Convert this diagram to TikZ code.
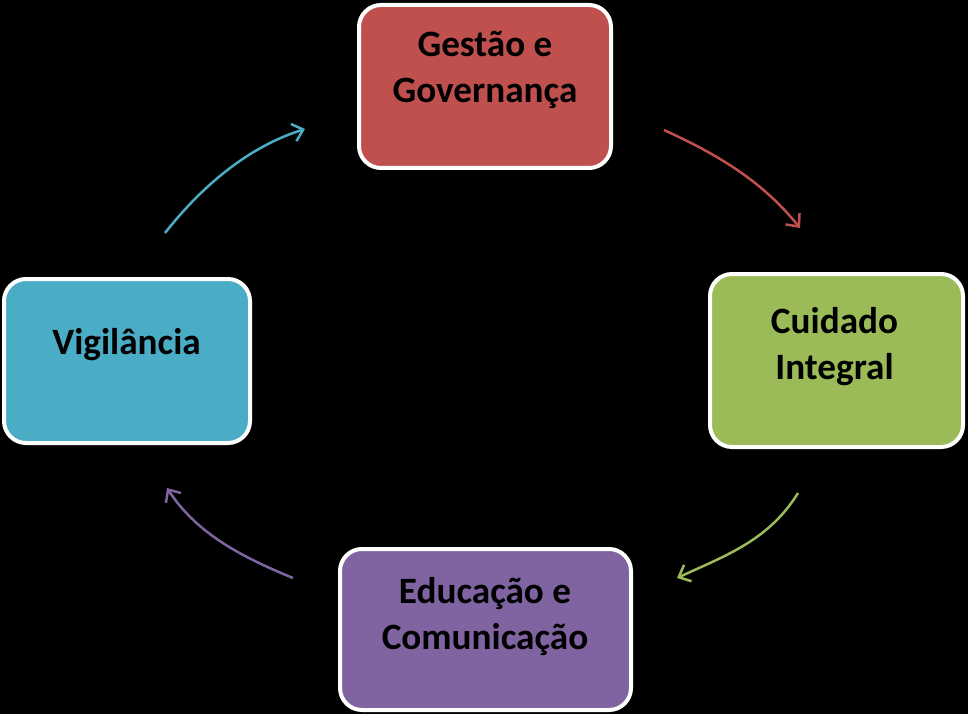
\documentclass[tikz,border=0pt]{standalone}
\usepackage{fontspec}
\setmainfont{Carlito}
\usetikzlibrary{arrows.meta}
\definecolor{cred}{HTML}{C0504D}
\definecolor{cgreen}{HTML}{9BBB59}
\definecolor{cpurple}{HTML}{8064A2}
\definecolor{ccyan}{HTML}{4BACC6}
\begin{document}
\begin{tikzpicture}[x=1pt,y=-1pt,
  box/.style={draw=white, line width=4pt, rounded corners=22pt, inner sep=0pt},
  lbl/.style={font=\bfseries\fontsize{37.2}{46}\selectfont, align=center, text=black, inner sep=0pt},
  arr/.style={line width=2.5pt, -{Straight Barb[length=10pt,width=18pt]}}]
\fill[black] (0,0) rectangle (968,714);
\useasboundingbox (0,0) rectangle (968,714);
% boxes
\node[box, fill=cred, minimum width=252pt, minimum height=163pt] (g) at (485,86.5) {};
\node[box, fill=cgreen, minimum width=253pt, minimum height=173pt] (c) at (836.5,360.5) {};
\node[box, fill=cpurple, minimum width=291pt, minimum height=161pt] (e) at (485.5,629.5) {};
\node[box, fill=ccyan, minimum width=246pt, minimum height=164pt] (v) at (127,361) {};
% labels
\node[lbl] (gt) at (485,70) {Gestão e\\Governança};
\node[lbl] (ct) at (834.5,347) {Cuidado\\Integral};
\node[lbl] (et) at (485,617) {Educação e\\Comunicação};
\node[lbl] (vt) at (126.5,345) {Vigilância};
% arrow ends
\coordinate (ga) at (664,130);
\coordinate (gb) at (800,228);
\coordinate (ca) at (798,493);
\coordinate (cb) at (677,578);
\coordinate (ea) at (293,578);
\coordinate (eb) at (167,488);
\coordinate (va) at (165,233);
\coordinate (vb) at (305,129);
% arrows
\draw[arr, cred] (ga) .. controls (718.5,155) and (762,181) .. (gb);
\draw[arr, cgreen] (ca) .. controls (769,540) and (727,555) .. (cb);
\draw[arr, cpurple] (ea) .. controls (242,557) and (197,534) .. (eb);
\draw[arr, ccyan] (va) .. controls (202,186) and (248,147) .. (vb);
\end{tikzpicture}
\end{document}
